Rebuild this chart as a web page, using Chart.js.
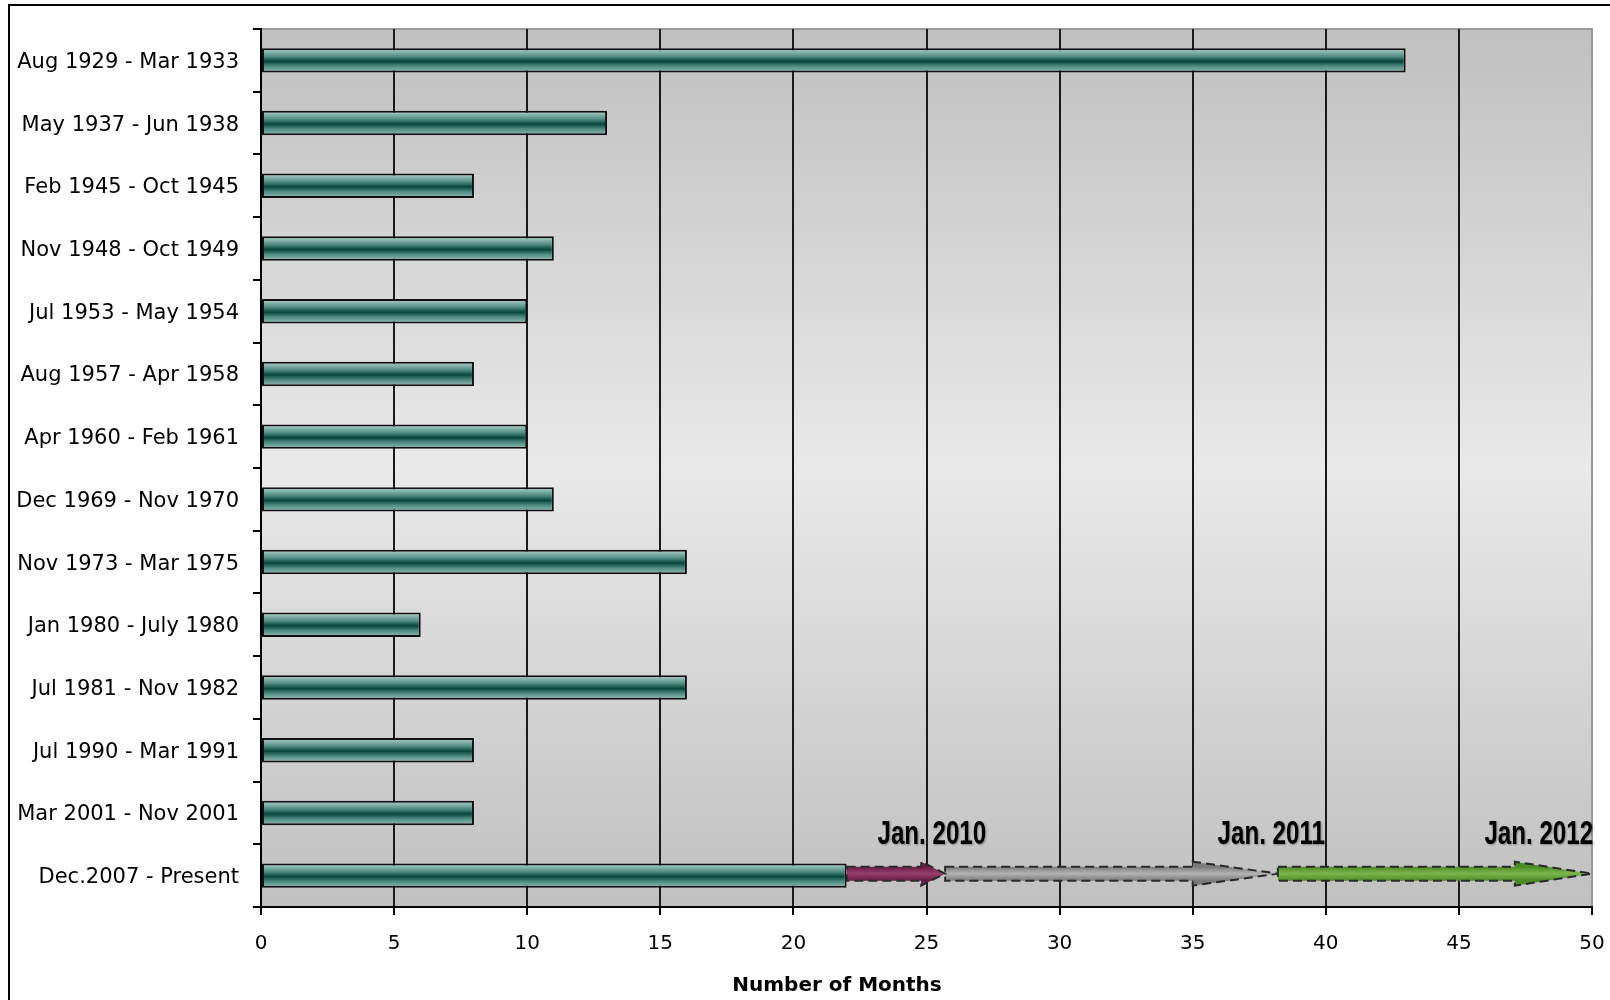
<!DOCTYPE html>
<html lang="en">
<head>
<meta charset="UTF-8">
<title>Length of Recessions</title>
<script src="https://cdn.jsdelivr.net/npm/chart.js"></script>
<style>
  html, body { margin: 0; padding: 0; background: #fff; }
  #wrap { width: 1610px; height: 1000px; position: relative; }
</style>
</head>
<body>
<div id="wrap"><canvas id="recessionChart"></canvas></div>
<script>
  const periods = [
    'Aug 1929 - Mar 1933', 'May 1937 - Jun 1938', 'Feb 1945 - Oct 1945',
    'Nov 1948 - Oct 1949', 'Jul 1953 - May 1954', 'Aug 1957 - Apr 1958',
    'Apr 1960 - Feb 1961', 'Dec 1969 - Nov 1970', 'Nov 1973 - Mar 1975',
    'Jan 1980 - July 1980', 'Jul 1981 - Nov 1982', 'Jul 1990 - Mar 1991',
    'Mar 2001 - Nov 2001', 'Dec.2007 - Present'
  ];
  const months = [43, 13, 8, 11, 10, 8, 10, 11, 16, 6, 16, 8, 8, 22];
  const axisTitle = 'Number of Months';

  // projected length of the current recession (arrows on the last row)
  const arrowFrom = [22, 25.7, 38.2];
  const arrowHead = [24.8, 35.0, 47.1];
  const arrowTo = [25.7, 38.2, 50];
  const arrowLabels = ['Jan. 2010', 'Jan. 2011', 'Jan. 2012'];
  const arrowLabelAt = [25.2, 37.95, 48.0];

  const arrowFills = [
    ['#6a1c44', '#963f6b', '#6a1c44'],
    ['#7a7a7a', '#b2b2b2', '#7a7a7a'],
    ['#4c8a28', '#7bb64c', '#4c8a28']
  ];

  const frame = {
    id: 'frame',
    beforeDraw(chart) {
      const ctx = chart.ctx, a = chart.chartArea;
      ctx.save();
      ctx.fillStyle = '#fff';
      ctx.fillRect(0, 0, chart.width, chart.height);
      ctx.fillStyle = '#000';
      ctx.fillRect(8, 4, chart.width - 8, 2);
      ctx.fillRect(8, 4, 2, chart.height - 4);
      const g = ctx.createLinearGradient(0, a.top, 0, a.bottom);
      g.addColorStop(0, '#c0c0c0');
      g.addColorStop(0.5, '#e9e9e9');
      g.addColorStop(1, '#c0c0c0');
      ctx.fillStyle = g;
      ctx.fillRect(a.left, a.top, a.right - a.left, a.bottom - a.top);
      ctx.fillStyle = '#9a9a9a';
      ctx.fillRect(a.left, a.top - 1, a.right - a.left + 1, 2);
      ctx.restore();
    },
    afterDraw(chart) {
      const ctx = chart.ctx;
      ctx.save();
      ctx.font = 'bold 20px "DejaVu Sans"';
      ctx.fillStyle = '#000';
      ctx.textAlign = 'center';
      ctx.textBaseline = 'middle';
      ctx.fillText(axisTitle, 837, 986);
      ctx.restore();
    }
  };

  const arrows = {
    id: 'arrows',
    afterDatasetsDraw(chart) {
      const ctx = chart.ctx, xs = chart.scales.x, ys = chart.scales.y;
      const yc = ys.getPixelForValue(periods.length - 1) - 2;
      const sh = 7, hh = 12;
      [1, 0, 2].forEach(i => {
        const x0 = xs.getPixelForValue(arrowFrom[i]);
        const xh = xs.getPixelForValue(arrowHead[i]);
        const x1 = xs.getPixelForValue(arrowTo[i]);
        ctx.save();
        ctx.beginPath();
        ctx.moveTo(x0, yc - sh);
        ctx.lineTo(xh, yc - sh);
        ctx.lineTo(xh, yc - hh);
        ctx.lineTo(x1, yc);
        ctx.lineTo(xh, yc + hh);
        ctx.lineTo(xh, yc + sh);
        ctx.lineTo(x0, yc + sh);
        ctx.closePath();
        const g = ctx.createLinearGradient(0, yc - sh, 0, yc + sh);
        g.addColorStop(0, arrowFills[i][0]);
        g.addColorStop(0.5, arrowFills[i][1]);
        g.addColorStop(1, arrowFills[i][2]);
        ctx.fillStyle = g;
        ctx.fill();
        ctx.setLineDash([9, 5]);
        ctx.lineWidth = 2;
        ctx.strokeStyle = '#2a2a2a';
        ctx.stroke();
        ctx.restore();
      });
      arrowLabels.forEach((txt, i) => {
        const x = xs.getPixelForValue(arrowLabelAt[i]);
        ctx.save();
        ctx.translate(x, yc - 30);
        ctx.scale(0.71, 1);
        ctx.font = 'bold 34px "Liberation Sans Narrow", "Liberation Sans", sans-serif';
        ctx.textAlign = 'center';
        ctx.textBaseline = 'alphabetic';
        ctx.shadowColor = 'rgba(0,0,0,0.35)';
        ctx.shadowBlur = 2;
        ctx.shadowOffsetX = 1;
        ctx.shadowOffsetY = 1;
        ctx.fillStyle = '#000';
        ctx.fillText(txt, 0, 0);
        ctx.restore();
      });
    }
  };

  function barFill(c) {
    const chart = c.chart, ys = chart.scales.y;
    if (!ys || !chart.chartArea) return '#1d5a50';
    const y = ys.getPixelForValue(c.dataIndex) + 1;
    const g = chart.ctx.createLinearGradient(0, y - 12, 0, y + 12);
    g.addColorStop(0, '#a8ccc4');
    g.addColorStop(0.3, '#4e8a80');
    g.addColorStop(0.5, '#07453b');
    g.addColorStop(0.7, '#4e8a80');
    g.addColorStop(1, '#a2c6be');
    return g;
  }

  new Chart(document.getElementById('recessionChart'), {
    type: 'bar',
    data: {
      labels: periods,
      datasets: [{
        data: months,
        backgroundColor: barFill,
        borderColor: '#111',
        borderWidth: 2,
        borderSkipped: false,
        barPercentage: 0.39,
        categoryPercentage: 1
      }]
    },
    options: {
      indexAxis: 'y',
      responsive: true,
      maintainAspectRatio: false,
      animation: false,
      layout: { padding: { left: 0, top: 29, right: 18, bottom: 0 } },
      plugins: {
        legend: { display: false },
        tooltip: { enabled: false }
      },
      scales: {
        x: {
          min: 0,
          max: 50,
          ticks: {
            stepSize: 5,
            padding: 17,
            color: '#000',
            font: { family: '"DejaVu Sans"', size: 20 }
          },
          grid: {
            color: c => (c.tick && c.tick.value === 50 ? '#9a9a9a' : '#1a1a1a'),
            lineWidth: 2,
            tickLength: 8,
            tickColor: '#000'
          },
          border: { display: true, color: '#000', width: 2 },
          afterFit: s => { s.height = 93; s.paddingRight = 0; s.paddingLeft = 0; }
        },
        y: {
          ticks: {
            padding: 14,
            labelOffset: 2,
            color: '#000',
            font: { family: '"DejaVu Sans"', size: 21 }
          },
          grid: {
            offset: true,
            drawOnChartArea: false,
            drawTicks: true,
            tickLength: 8,
            tickColor: '#000',
            lineWidth: 2
          },
          border: { display: true, color: '#000', width: 2 },
          afterFit: s => { s.width = 261; }
        }
      }
    },
    plugins: [frame, arrows]
  });
</script>
</body>
</html>
